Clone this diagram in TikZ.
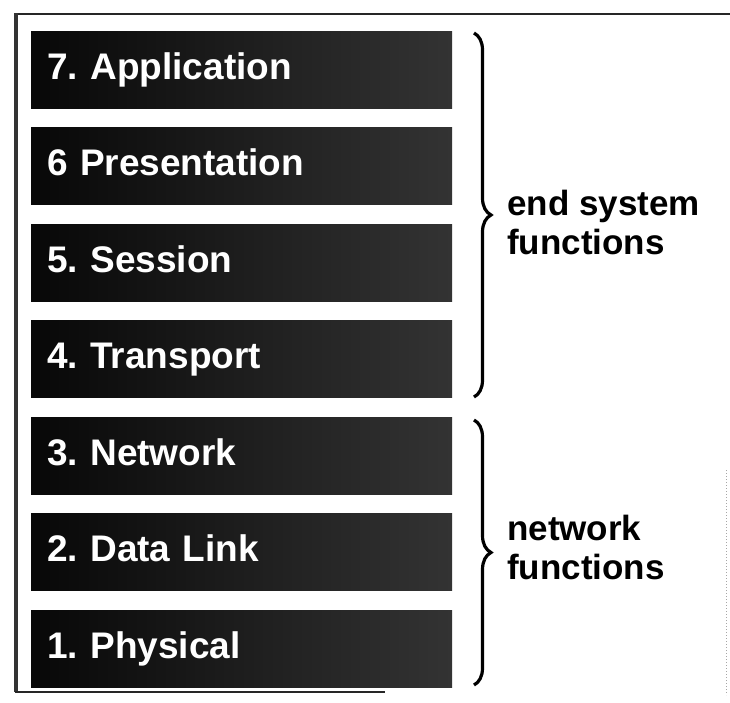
\documentclass[tikz,border=0pt]{standalone}
\usepackage{fontspec}
\setmainfont{Liberation Sans}
\usetikzlibrary{decorations.pathreplacing}
\frenchspacing
\begin{document}
\begin{tikzpicture}[x=1pt,y=-1pt,
  layer/.style={rectangle, anchor=north west, inner xsep=16pt, inner ysep=0pt,
    text width=389pt, minimum height=77pt, align=left,
    text height=27pt, text depth=8pt,
    left color=black!97, right color=black!80, text=white,
    font=\fontsize{37}{40}\selectfont\bfseries},
  grp/.style={anchor=west, align=left, inner sep=0pt,
    font=\fontsize{35}{39}\selectfont\bfseries},
  curly/.style={decorate, decoration={brace, amplitude=17pt}, line width=3.2pt}]
\useasboundingbox (0,0) rectangle (730,702);
% frame (scanned page edge)
\draw[line width=2pt, black!85] (730,14) -- (16,14);
\draw[line width=3.5pt, black!80] (16,13) -- (16,692);
\draw[line width=2pt, black!85] (15,692) -- (385,692);
\draw[line width=1pt, black!35, dotted] (726,470) -- (726,695);
% layers
\node[layer] (l7) at (31,31)    {7. Application};
\node[layer] (l6) at (31,127.5) {6 Presentation};
\node[layer] (l5) at (31,224)   {5. Session};
\node[layer] (l4) at (31,320.5) {4. Transport};
\node[layer] (l3) at (31,417)   {3. Network};
\node[layer] (l2) at (31,513.5) {2. Data Link};
\node[layer] (l1) at (31,610)   {1. Physical};
% braces
\coordinate (b1t) at (474,33);
\coordinate (b1b) at (474,397);
\coordinate (b2t) at (474,420);
\coordinate (b2b) at (474,685);
\draw[curly] (b1t) -- (b1b);
\draw[curly] (b2t) -- (b2b);
\node[grp] (es) at (507,222) {end system\\functions};
\node[grp] (nf) at (507,547) {network\\functions};
\end{tikzpicture}
\end{document}
